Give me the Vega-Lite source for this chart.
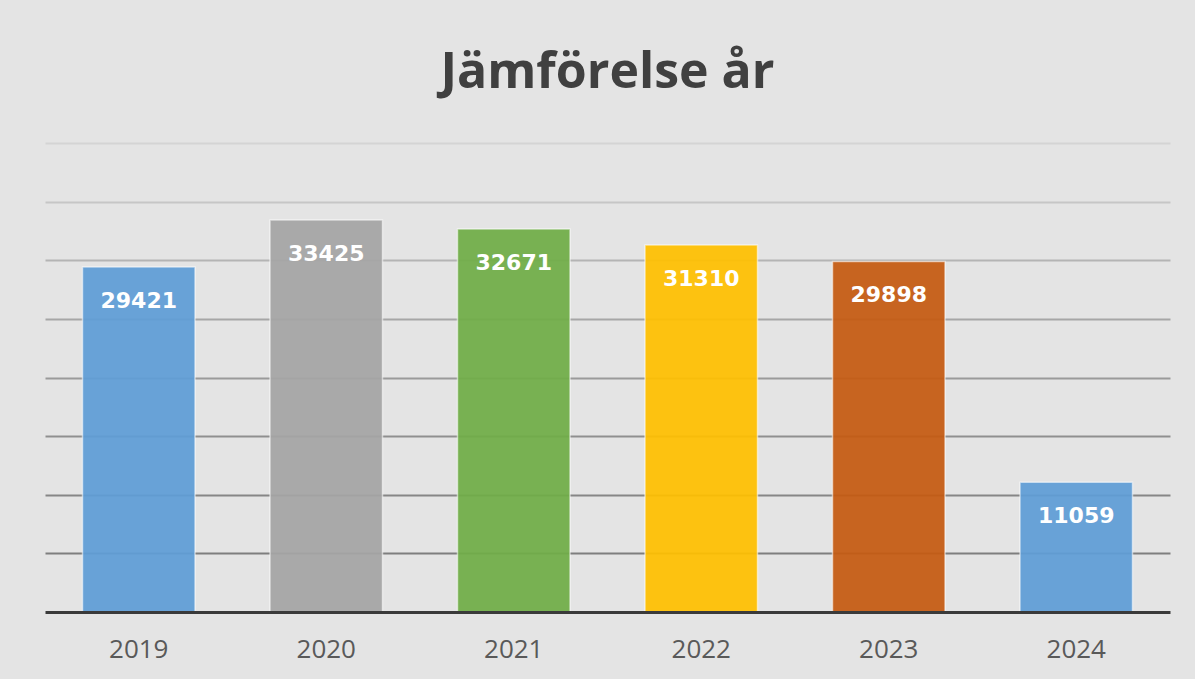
{
  "$schema": "https://vega.github.io/schema/vega-lite/v6.json",
  "autosize": "none",
  "width": 1125,
  "height": 469,
  "padding": {"left": 45, "top": 143, "right": 25, "bottom": 67},
  "background": "#e4e4e4",
  "title": {
    "text": "Jämförelse år",
    "font": "Open Sans",
    "fontSize": 50,
    "fontWeight": "bold",
    "color": "#404040",
    "anchor": "middle",
    "baseline": "alphabetic",
    "offset": 5
  },
  "config": {
    "view": {"stroke": null},
    "axis": {"labelFont": "Open Sans"}
  },
  "data": {
    "values": [
      {"year": "2019", "value": 29421},
      {"year": "2020", "value": 33425},
      {"year": "2021", "value": 32671},
      {"year": "2022", "value": 31310},
      {"year": "2023", "value": 29898},
      {"year": "2024", "value": 11059}
    ]
  },
  "encoding": {
    "x": {
      "field": "year",
      "type": "nominal",
      "sort": null,
      "scale": {"paddingInner": 0.4, "paddingOuter": 0.2},
      "axis": {
        "title": null,
        "labelAngle": 0,
        "labelFontSize": 26,
        "labelColor": "#595959",
        "labelBaseline": "alphabetic",
        "labelPadding": 45,
        "ticks": false,
        "domainColor": "#3a3a3a",
        "domainWidth": 3,
        "zindex": 2
      }
    },
    "y": {
      "field": "value",
      "type": "quantitative",
      "scale": {"domain": [0, 40000], "nice": false},
      "axis": {
        "title": null,
        "labels": false,
        "ticks": false,
        "domain": false,
        "values": [5000, 10000, 15000, 20000, 25000, 30000, 35000, 40000],
        "gridWidth": 2,
        "gridColor": {
          "condition": [
            {"test": "datum.value >= 40000", "value": "#d4d4d4"},
            {"test": "datum.value >= 35000", "value": "#c6c6c6"},
            {"test": "datum.value >= 30000", "value": "#b4b4b4"},
            {"test": "datum.value >= 25000", "value": "#a6a6a6"},
            {"test": "datum.value >= 20000", "value": "#9a9a9a"},
            {"test": "datum.value >= 15000", "value": "#8f8f8f"},
            {"test": "datum.value >= 10000", "value": "#868686"}
          ],
          "value": "#7e7e7e"
        }
      }
    }
  },
  "layer": [
    {
      "mark": {"type": "bar", "fillOpacity": 0.93, "stroke": "#ffffff", "strokeOpacity": 0.55, "strokeWidth": 1.5},
      "encoding": {
        "color": {
          "field": "year",
          "type": "nominal",
          "scale": {
            "domain": ["2019", "2020", "2021", "2022", "2023", "2024"],
            "range": ["#5f9dd6", "#a5a5a5", "#70ad47", "#ffc000", "#c55a11", "#5f9dd6"]
          },
          "legend": null
        }
      }
    },
    {
      "mark": {
        "type": "text",
        "font": "DejaVu Sans",
        "fontWeight": "bold",
        "fontSize": 22,
        "color": "#ffffff",
        "baseline": "alphabetic",
        "dy": 41
      },
      "encoding": {
        "text": {"field": "value", "type": "quantitative", "format": "d"}
      }
    }
  ]
}
